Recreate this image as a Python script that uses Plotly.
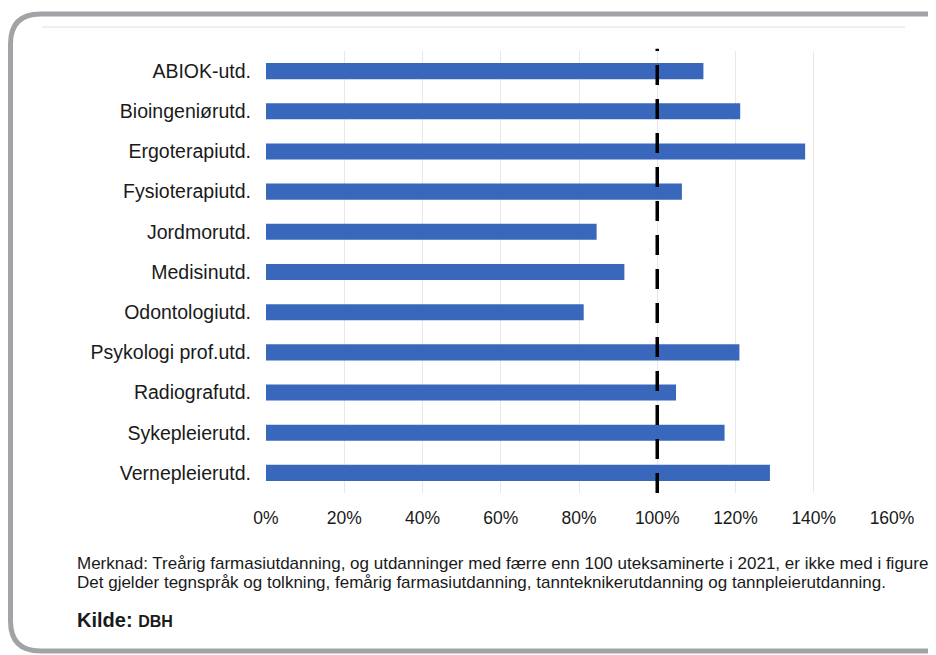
import plotly.graph_objects as go

categories = ["ABIOK-utd.", "Bioingeniørutd.", "Ergoterapiutd.", "Fysioterapiutd.",
              "Jordmorutd.", "Medisinutd.", "Odontologiutd.", "Psykologi prof.utd.",
              "Radiografutd.", "Sykepleierutd.", "Vernepleierutd."]
values = [111.8, 121.2, 137.8, 106.3, 84.5, 91.6, 81.2, 121.0, 104.8, 117.2, 128.8]
tick_vals = [0, 20, 40, 60, 80, 100, 120, 140, 160]
tick_text = ["0%", "20%", "40%", "60%", "80%", "100%", "120%", "140%", "160%"]
reference_value = 100

OFF = 8  # page body margin
W, H = 936 - OFF, 655 - OFF
# plot area in page pixels: x 266..892, y 51..493
L = 266 - OFF
T = 51 - OFF
R = W - (892 - OFF)
B = H - (493 - OFF)
PW, PH = W - L - R, H - T - B

def px(x):
    return (x - OFF - L) / PW

def py(y):
    return (H - B - (y - OFF)) / PH

fig = go.Figure()
fig.add_trace(go.Bar(
    y=categories, x=values, orientation="h",
    marker=dict(color="#3867BC", line=dict(width=0)),
    hoverinfo="x+y",
))

fig.add_shape(type="line", xref="x", yref="paper",
              x0=reference_value, x1=reference_value, y0=0.0, y1=1.005,
              line=dict(color="black", width=3.5, dash="20px,14px"))

# rounded grey frame (decoration)
r = 30
x0, y0, y1 = 10.5, 14, 651
x_end = 960
path = (f"M {px(x_end)},{py(y0)} L {px(x0 + r)},{py(y0)} "
        f"Q {px(x0)},{py(y0)} {px(x0)},{py(y0 + r)} "
        f"L {px(x0)},{py(y1 - r)} "
        f"Q {px(x0)},{py(y1)} {px(x0 + r)},{py(y1)} "
        f"L {px(x_end)},{py(y1)}")
fig.add_shape(type="path", xref="paper", yref="paper", path=path,
              line=dict(color="#A2A3A7", width=5))
# faint top edge of inner picture
fig.add_shape(type="line", xref="paper", yref="paper",
              x0=px(42), x1=px(905), y0=py(27), y1=py(27),
              line=dict(color="#EFEFEF", width=2))

note_font = dict(family="Liberation Sans, Arial", size=17.0, color="#1a1a1a")
fig.add_annotation(xref="paper", yref="paper", x=px(75), y=py(563),
                   xanchor="left", yanchor="middle", showarrow=False, align="left",
                   text="Merknad: Treårig farmasiutdanning, og utdanninger med færre enn 100 uteksaminerte i 2021, er ikke med i figuren.",
                   font=note_font)
fig.add_annotation(xref="paper", yref="paper", x=px(75), y=py(582),
                   xanchor="left", yanchor="middle", showarrow=False, align="left",
                   text="Det gjelder tegnspråk og tolkning, femårig farmasiutdanning, tannteknikerutdanning og tannpleierutdanning.",
                   font=note_font)
fig.add_annotation(xref="paper", yref="paper", x=px(75), y=py(620),
                   xanchor="left", yanchor="middle", showarrow=False, align="left",
                   text="<b>Kilde: </b><b><span style='font-size:16px'>DBH</span></b>",
                   font=dict(family="Liberation Sans, Arial", size=20, color="#1a1a1a"))

fig.update_layout(
    width=W, height=H,
    margin=dict(l=L, r=R, t=T, b=B, pad=0),
    paper_bgcolor="white", plot_bgcolor="white",
    bargap=0.6, showlegend=False,
    font=dict(family="Liberation Sans, Arial", color="#1a1a1a"),
    xaxis=dict(range=[0, 160], tickvals=tick_vals, ticktext=tick_text,
               showgrid=True, gridcolor="#E8E8E8", gridwidth=1, zeroline=False,
               showline=False, ticks="", tickfont=dict(size=17.5), ticklabelstandoff=12),
    yaxis=dict(autorange="reversed", showgrid=False, showline=False, ticks="",
               tickfont=dict(size=19.5), ticklabelstandoff=14),
)

fig.write_html("out.html")
